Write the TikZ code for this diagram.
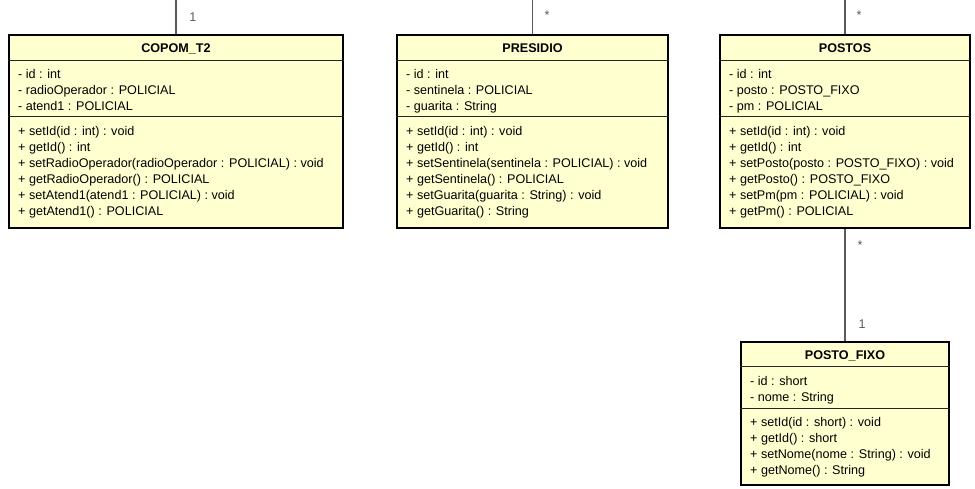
\documentclass[tikz,border=0pt]{standalone}
\usepackage{fontspec}
\setmainfont{Liberation Sans}
\definecolor{umlfill}{RGB}{255,255,208}
\definecolor{linkgray}{RGB}{90,90,90}
\tikzset{
  classbox/.style={draw=black, line width=2pt, fill=umlfill, inner sep=0pt, anchor=north west},
  sepline/.style={draw=black!85, line width=0.9pt},
  classtitle/.style={font=\fontsize{12.6}{16}\selectfont\bfseries, inner sep=0pt, anchor=base},
  members/.style={font=\fontsize{12.6}{16}\selectfont, inner sep=0pt, anchor=north west, align=left},
  link/.style={draw=linkgray, line width=1.2pt},
  mult/.style={font=\fontsize{12.6}{16}\selectfont, text=linkgray, inner sep=0pt}
}
\begin{document}
\begin{tikzpicture}[x=1pt,y=-1pt]
\useasboundingbox (0,0) rectangle (975,489);

% ---------- COPOM_T2 ----------
\node[classbox, minimum width=334pt, minimum height=193pt] (copom) at (8,34) {};
\draw[sepline] (copom.west |- 0,60) -- (copom.east |- 0,60);
\draw[sepline] (copom.west |- 0,116) -- (copom.east |- 0,116);
\node[classtitle] (copomT) at (copom.north |- 0,52.5) {COPOM\_T2};
\node[members] (copomA) at (18,66.8) {\strut- id : int\\- radioOperador : POLICIAL\\- atend1 : POLICIAL};
\node[members] (copomM) at (18,123.8) {\strut+ setId(id : int) : void\\+ getId() : int\\+ setRadioOperador(radioOperador : POLICIAL) : void\\+ getRadioOperador() : POLICIAL\\+ setAtend1(atend1 : POLICIAL) : void\\+ getAtend1() : POLICIAL};

% ---------- PRESIDIO ----------
\node[classbox, minimum width=271pt, minimum height=193pt] (presidio) at (396,34) {};
\draw[sepline] (presidio.west |- 0,60) -- (presidio.east |- 0,60);
\draw[sepline] (presidio.west |- 0,116) -- (presidio.east |- 0,116);
\node[classtitle] (presidioT) at (presidio.north |- 0,52.5) {PRESIDIO};
\node[members] (presidioA) at (406,66.8) {\strut- id : int\\- sentinela : POLICIAL\\- guarita : String};
\node[members] (presidioM) at (406,123.8) {\strut+ setId(id : int) : void\\+ getId() : int\\+ setSentinela(sentinela : POLICIAL) : void\\+ getSentinela() : POLICIAL\\+ setGuarita(guarita : String) : void\\+ getGuarita() : String};

% ---------- POSTOS ----------
\node[classbox, minimum width=250pt, minimum height=193pt] (postos) at (719,34) {};
\draw[sepline] (postos.west |- 0,60) -- (postos.east |- 0,60);
\draw[sepline] (postos.west |- 0,116) -- (postos.east |- 0,116);
\node[classtitle] (postosT) at (postos.north |- 0,52.5) {POSTOS};
\node[members] (postosA) at (729,66.8) {\strut- id : int\\- posto : POSTO\_FIXO\\- pm : POLICIAL};
\node[members] (postosM) at (729,123.8) {\strut+ setId(id : int) : void\\+ getId() : int\\+ setPosto(posto : POSTO\_FIXO) : void\\+ getPosto() : POSTO\_FIXO\\+ setPm(pm : POLICIAL) : void\\+ getPm() : POLICIAL};

% ---------- POSTO_FIXO ----------
\node[classbox, minimum width=208pt, minimum height=143pt] (fixo) at (740,341) {};
\draw[sepline] (fixo.west |- 0,366) -- (fixo.east |- 0,366);
\draw[sepline] (fixo.west |- 0,408) -- (fixo.east |- 0,408);
\node[classtitle] (fixoT) at (fixo.north |- 0,359) {POSTO\_FIXO};
\node[members] (fixoA) at (750,373.8) {\strut- id : short\\- nome : String};
\node[members] (fixoM) at (750,414.8) {\strut+ setId(id : short) : void\\+ getId() : short\\+ setNome(nome : String) : void\\+ getNome() : String};

% ---------- connectors ----------
\coordinate (copomEnd) at (copom.north |- 0,0);
\coordinate (presidioEnd) at (presidio.north |- 0,0);
\coordinate (postosEnd) at (postos.north |- 0,0);
\draw[link] (copomEnd) -- (copom.north);
\draw[link] (presidioEnd) -- (presidio.north);
\draw[link] (postosEnd) -- (postos.north);
\draw[link] (postos.south) -- (fixo.north);

% ---------- multiplicities ----------
\node[mult] (m1) at (193,17) {1};
\node[mult] (m2) at (547,15) {*};
\node[mult] (m3) at (859,15) {*};
\node[mult] (m4) at (860,245) {*};
\node[mult] (m5) at (862,324) {1};
\end{tikzpicture}
\end{document}
